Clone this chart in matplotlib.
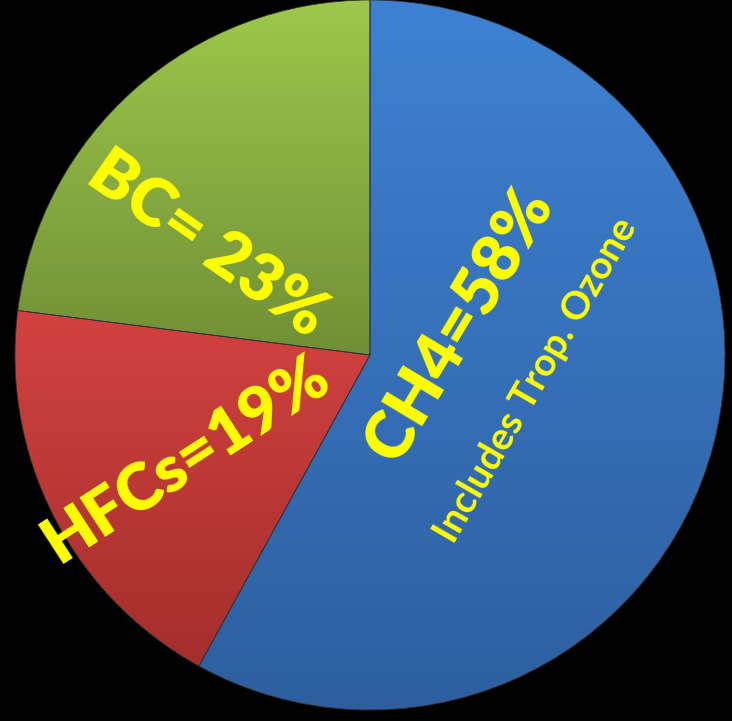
import numpy as np
import matplotlib.pyplot as plt
from matplotlib.colors import LinearSegmentedColormap

# shares of the near-term climate pollutants
labels = ['CH4', 'HFCs', 'BC']
shares = [58, 19, 23]

# light (top) and dark (bottom) colour of each slice
top_colors = ['#3e81d3', '#d2423f', '#9dc84b']
bottom_colors = ['#2d5f9f', '#a42e2c', '#718f36']

W, H = 732, 721
fig = plt.figure(figsize=(W / 100, H / 100), dpi=100, facecolor='black')
ax = fig.add_axes([0, 0, 1, 1])
ax.set_facecolor('black')

cx, cy, r = 370, 366, 355
wedges, _ = ax.pie(shares, startangle=90, counterclock=False,
                   center=(cx, cy), radius=r,
                   wedgeprops=dict(edgecolor='#333333', linewidth=0.6))

# vertical gradient fill for every slice, clipped to its wedge
grad = np.linspace(0, 1, 256).reshape(-1, 1)
for w, c0, c1 in zip(wedges, top_colors, bottom_colors):
    verts = w.get_path().transformed(w.get_patch_transform()).vertices
    x0, x1 = verts[:, 0].min(), verts[:, 0].max()
    y0, y1 = verts[:, 1].min(), verts[:, 1].max()
    cmap = LinearSegmentedColormap.from_list('g', [c1, c0])
    im = ax.imshow(grad, cmap=cmap, extent=(x0, x1, y0, y1),
                   origin='lower', aspect='auto', zorder=1.5)
    im.set_clip_path(w)
    w.set_facecolor('none')
    w.set_zorder(2)

ax.set_xlim(0, W)
ax.set_ylim(0, H)
ax.set_aspect('equal')
ax.axis('off')

font = ['Lato', 'DejaVu Sans']
yellow = '#ffff00'
ax.text(207, H - 245, f'{labels[2]}= {shares[2]}%', rotation=-35, color=yellow,
        fontsize=48, fontweight='heavy', family=font, ha='center', va='center')
ax.text(187, H - 460, f'{labels[1]}={shares[1]}%', rotation=33, color=yellow,
        fontsize=47, fontweight='heavy', family=font, ha='center', va='center')
ax.text(460, H - 325, f'{labels[0]}={shares[0]}%', rotation=59, color=yellow,
        fontsize=48, fontweight='heavy', family=font, ha='center', va='center')
ax.text(536, H - 380, 'Includes Trop. Ozone', rotation=60, color=yellow,
        fontsize=28, fontweight='bold', family=font, ha='center', va='center')

fig.savefig('out.png', dpi=100, facecolor='black')
